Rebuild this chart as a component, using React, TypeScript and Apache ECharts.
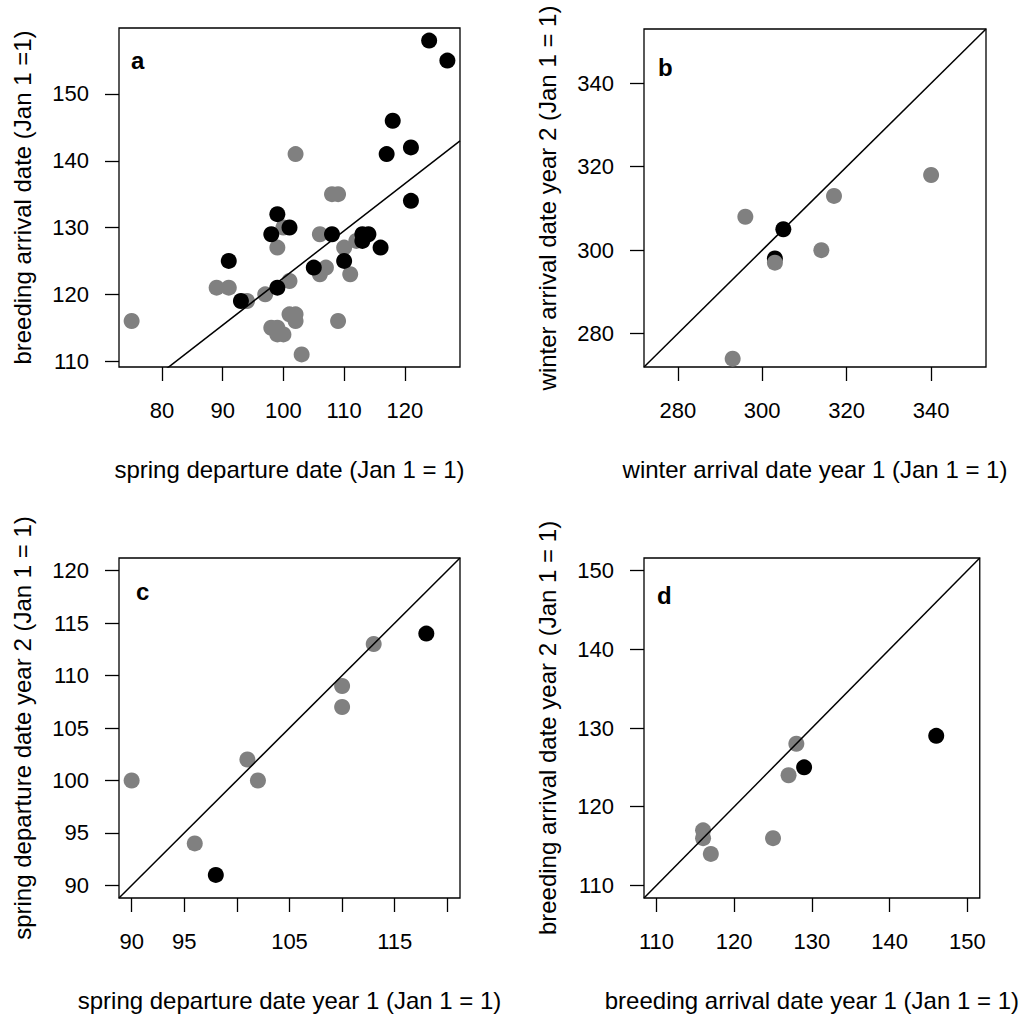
import React, { useEffect, useRef } from "react";
import * as echarts from "echarts";

const FONT = '"Liberation Sans", Arial, Helvetica, sans-serif';
const GRAY = "#808080";
const BLACK = "#000000";

// Panel a: spring departure vs breeding arrival
const aGrayX = [75, 102, 108, 109, 100, 106, 99, 110, 112, 107, 106, 111, 101, 89, 91, 94, 97, 101, 102, 102, 98, 99, 99, 100, 109, 103];
const aGrayY = [116, 141, 135, 135, 130, 129, 127, 127, 128, 124, 123, 123, 122, 121, 121, 119, 120, 117, 117, 116, 115, 115, 114, 114, 116, 111];
const aBlackX = [124, 127, 118, 117, 121, 121, 99, 101, 98, 108, 113, 113, 114, 116, 91, 110, 105, 99, 93];
const aBlackY = [158, 155, 146, 141, 142, 134, 132, 130, 129, 129, 128, 129, 129, 127, 125, 125, 124, 121, 119];
const aRegression = { intercept: 51.86, slope: 0.706 };
const aXLim = [72.92, 129.08];
const aYLim = [109.12, 159.88];
const aXTicks = [80, 90, 100, 110, 120];
const aYTicks = [110, 120, 130, 140, 150];

// Panel b: winter arrival year 1 vs year 2
const bGrayX = [296, 303, 314, 317, 340, 293];
const bGrayY = [308, 297, 300, 313, 318, 274];
const bBlackX = [305, 303];
const bBlackY = [305, 298];
const bLim = [272, 353];
const bTicks = [280, 300, 320, 340];

// Panel c: spring departure year 1 vs year 2
const cGrayX = [90, 101, 102, 96, 110, 110, 113];
const cGrayY = [100, 102, 100, 94, 109, 107, 113];
const cBlackX = [98, 118];
const cBlackY = [91, 114];
const cLim = [88.8, 121.2];
const cTicks = [90, 95, 100, 105, 110, 115, 120];
const cXLabels = [90, 95, 105, 115];

// Panel d: breeding arrival year 1 vs year 2
const dGrayX = [116, 116, 117, 125, 127, 128];
const dGrayY = [117, 116, 114, 116, 124, 128];
const dBlackX = [129, 146];
const dBlackY = [125, 129];
const dLim = [108.4, 151.6];
const dTicks = [110, 120, 130, 140, 150];

const zip = (xs: number[], ys: number[]) => xs.map((x, i) => [x, ys[i]]);

function makeAxis(
  gridIndex: number,
  lim: number[],
  ticks: number[],
  labels: number[],
  name: string,
  isY: boolean
) {
  return {
    type: "value",
    gridIndex,
    min: lim[0],
    max: lim[1],
    name,
    nameLocation: "middle",
    nameGap: isY ? 85 : 90,
    nameTextStyle: { fontSize: 24, color: "#000", fontFamily: FONT },
    axisLine: { show: false },
    splitLine: { show: false },
    axisTick: {
      show: true,
      inside: false,
      length: 14,
      lineStyle: { color: "#000", width: 1.3 },
      customValues: ticks,
    },
    axisLabel: {
      show: true,
      fontSize: 22,
      color: "#000",
      fontFamily: FONT,
      margin: isY ? 30 : 32,
      hideOverlap: false,
      customValues: labels,
      formatter: (v: number) => String(v),
    },
  };
}

function scatter(idx: number, data: number[][], color: string) {
  return {
    type: "scatter",
    xAxisIndex: idx,
    yAxisIndex: idx,
    data,
    symbol: "circle",
    symbolSize: 16,
    itemStyle: { color, opacity: 1 },
    silent: true,
  };
}

function lineSeries(idx: number, data: number[][]) {
  return {
    type: "line",
    xAxisIndex: idx,
    yAxisIndex: idx,
    data,
    showSymbol: false,
    symbol: "none",
    clip: true,
    lineStyle: { color: "#000", width: 1.5 },
    silent: true,
    z: 5,
  };
}

export default function App() {
  const ref = useRef<HTMLDivElement>(null);

  useEffect(() => {
    if (!ref.current) return;
    const chart = echarts.init(ref.current, null, { renderer: "svg" });

    const gridBase = { show: true, borderColor: "#000", borderWidth: 1.3, backgroundColor: "transparent", containLabel: false };

    const regLine = [
      [aXLim[0], aRegression.intercept + aRegression.slope * aXLim[0]],
      [aXLim[1], aRegression.intercept + aRegression.slope * aXLim[1]],
    ];

    const option = {
      animation: false,
      backgroundColor: "#ffffff",
      grid: [
        { ...gridBase, left: 119, top: 28, width: 341, height: 339 },
        { ...gridBase, left: 644, top: 29, width: 342, height: 338 },
        { ...gridBase, left: 119, top: 558, width: 341, height: 340 },
        { ...gridBase, left: 644, top: 558, width: 342, height: 340 },
      ],
      xAxis: [
        makeAxis(0, aXLim, aXTicks, aXTicks, "spring departure date (Jan 1 = 1)", false),
        makeAxis(1, bLim, bTicks, bTicks, "winter arrival date year 1 (Jan 1 = 1)", false),
        makeAxis(2, cLim, cTicks, cXLabels, "spring departure date year 1 (Jan 1 = 1)", false),
        makeAxis(3, dLim, dTicks, dTicks, "breeding arrival date year 1 (Jan 1 = 1)", false),
      ],
      yAxis: [
        makeAxis(0, aYLim, aYTicks, aYTicks, "breeding arrival date (Jan 1 =1)", true),
        makeAxis(1, bLim, bTicks, bTicks, "winter arrival date year 2 (Jan 1 = 1)", true),
        makeAxis(2, cLim, cTicks, cTicks, "spring departure date year 2 (Jan 1 = 1)", true),
        makeAxis(3, dLim, dTicks, dTicks, "breeding arrival date year 2 (Jan 1 = 1)", true),
      ],
      series: [
        scatter(0, zip(aGrayX, aGrayY), GRAY),
        scatter(0, zip(aBlackX, aBlackY), BLACK),
        lineSeries(0, regLine),
        scatter(1, zip(bBlackX, bBlackY), BLACK),
        scatter(1, zip(bGrayX, bGrayY), GRAY),
        lineSeries(1, [[bLim[0], bLim[0]], [bLim[1], bLim[1]]]),
        scatter(2, zip(cGrayX, cGrayY), GRAY),
        scatter(2, zip(cBlackX, cBlackY), BLACK),
        lineSeries(2, [[cLim[0], cLim[0]], [cLim[1], cLim[1]]]),
        scatter(3, zip(dGrayX, dGrayY), GRAY),
        scatter(3, zip(dBlackX, dBlackY), BLACK),
        lineSeries(3, [[dLim[0], dLim[0]], [dLim[1], dLim[1]]]),
      ],
      graphic: [
        { type: "text", left: 131, top: 48, style: { text: "a", fontSize: 24, fontWeight: "bold", fill: "#000", fontFamily: FONT } },
        { type: "text", left: 658, top: 55, style: { text: "b", fontSize: 24, fontWeight: "bold", fill: "#000", fontFamily: FONT } },
        { type: "text", left: 136, top: 579, style: { text: "c", fontSize: 24, fontWeight: "bold", fill: "#000", fontFamily: FONT } },
        { type: "text", left: 657, top: 583, style: { text: "d", fontSize: 24, fontWeight: "bold", fill: "#000", fontFamily: FONT } },
      ],
    };

    chart.setOption(option as any);
    return () => chart.dispose();
  }, []);

  return (
    <div
      ref={ref}
      style={{ position: "absolute", left: 0, top: 0, width: 1021, height: 1014, background: "#fff" }}
    />
  );
}
